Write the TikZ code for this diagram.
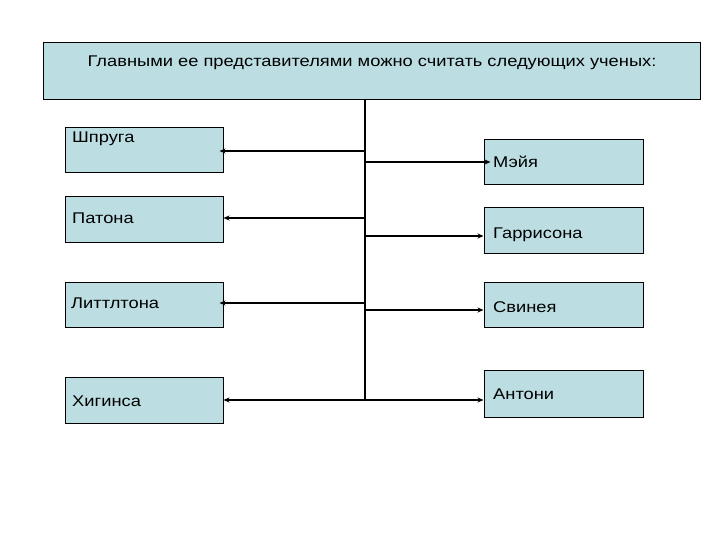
\documentclass[tikz,border=0pt]{standalone}
\usepackage{fontspec}
\setmainfont[FakeStretch=1.18]{Liberation Sans}
\usetikzlibrary{arrows.meta}
\definecolor{boxfill}{RGB}{188,222,226}
\tikzset{
  box/.style={draw=black, fill=boxfill, line width=1pt, inner sep=0pt, rectangle},
  lbl/.style={anchor=base west, inner sep=0pt, font=\fontsize{15.5}{18}\selectfont},
  spine/.style={line width=1.2pt},
  arr/.style={line width=1.8pt, -{Stealth[length=6pt,width=5pt]}}
}
\begin{document}
\begin{tikzpicture}[x=1pt,y=-1pt]
\useasboundingbox (0,0) rectangle (720,540);
% top box
\node[box, minimum width=657pt, minimum height=57pt] (top) at (371.5,71.5) {};
\node[anchor=base, inner sep=0pt, font=\fontsize{15.5}{18}\selectfont] (title) at (372,67) {Главными ее представителями можно считать следующих ученых:};
% left boxes
\node[box, minimum width=158pt, minimum height=45pt] (b1) at (144,150.5) {};
\node[box, minimum width=158pt, minimum height=45pt] (b2) at (144,219.5) {};
\node[box, minimum width=158pt, minimum height=45pt] (b3) at (144,304.5) {};
\node[box, minimum width=158pt, minimum height=46pt] (b4) at (144,400) {};
% right boxes
\node[box, minimum width=159pt, minimum height=45pt] (r1) at (563.5,162.5) {};
\node[box, minimum width=159pt, minimum height=45pt] (r2) at (563.5,230.5) {};
\node[box, minimum width=159pt, minimum height=45pt] (r3) at (563.5,304.5) {};
\node[box, minimum width=159pt, minimum height=47pt] (r4) at (563.5,393.5) {};
% labels
\node[lbl] (t1) at (72,143) {Шпруга};
\node[lbl] (t2) at (72,223) {Патона};
\node[lbl] (t3) at (71,308) {Литтлтона};
\node[lbl] (t4) at (72,406) {Хигинса};
\node[lbl] (u1) at (493,168) {Мэйя};
\node[lbl] (u2) at (493,238) {Гаррисона};
\node[lbl] (u3) at (493,312) {Свинея};
\node[lbl] (u4) at (493,399) {Антони};
% spine
\coordinate (s0) at (365,100);
\coordinate (s9) at (365,400);
\draw[spine] (s0) -- (s9);
\coordinate (l1) at (365,151);
\coordinate (l2) at (365,218);
\coordinate (l3) at (365,303);
\coordinate (l4) at (365,400);
\coordinate (m1) at (365,162);
\coordinate (m2) at (365,236);
\coordinate (m3) at (365,310);
\coordinate (m4) at (365,400);
\draw[arr] (l1) -- ([xshift=-4pt]b1.east |- l1);
\draw[arr] (l2) -- (b2.east |- l2);
\draw[arr] (l3) -- ([xshift=-4pt]b3.east |- l3);
\draw[arr] (l4) -- (b4.east |- l4);
\draw[arr] (m1) -- ([xshift=7pt]r1.west |- m1);
\draw[arr] (m2) -- (r2.west |- m2);
\draw[arr] (m3) -- (r3.west |- m3);
\draw[arr] (m4) -- (r4.west |- m4);
\end{tikzpicture}
\end{document}
